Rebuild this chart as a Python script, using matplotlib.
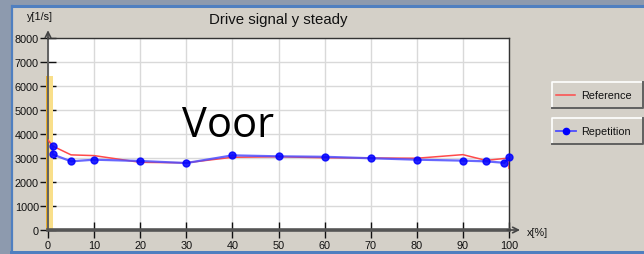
import matplotlib
matplotlib.use("Agg")
import matplotlib.pyplot as plt
from matplotlib.patches import Rectangle
from matplotlib.lines import Line2D

# ---- data ----
ref_x = [0, 1, 5, 10, 20, 30, 40, 50, 60, 70, 80, 90, 95, 100, 100]
ref_y = [3750, 3500, 3130, 3100, 2820, 2800, 3030, 3050, 3010, 3000, 2990, 3140, 2900, 3000, 2570]
rep_x = [1, 1, 5, 10, 20, 30, 40, 50, 60, 70, 80, 90, 95, 99, 100]
rep_y = [3480, 3150, 2860, 2930, 2875, 2790, 3110, 3070, 3050, 2990, 2930, 2890, 2860, 2800, 3030]
x_ticks = [0, 10, 20, 30, 40, 50, 60, 70, 80, 90, 100]
y_ticks = [0, 1000, 2000, 3000, 4000, 5000, 6000, 7000, 8000]
highlight_top = 6400

W, H = 644, 255
FONT = "Liberation Sans"
PANEL = "#d4d0c8"

fig = plt.figure(figsize=(W / 100, H / 100), dpi=100)
fig.patch.set_facecolor("#8d9aae")

def fx(px):
    return px / W

def fy(py):
    return 1 - py / H

# window panel
fig.add_artist(Rectangle((fx(12), fy(252)), fx(W - 12), fy(7) - fy(252),
                         transform=fig.transFigure, facecolor=PANEL,
                         edgecolor="none", zorder=0))
# blue window borders
fig.add_artist(Line2D([fx(12), fx(12)], [fy(252), fy(7)], transform=fig.transFigure,
                      color="#4f7fc0", lw=1.6, zorder=1))
fig.add_artist(Line2D([fx(12), fx(W)], [fy(7), fy(7)], transform=fig.transFigure,
                      color="#4f7fc0", lw=2.2, zorder=1))
fig.add_artist(Rectangle((fx(10), 0), 1, fy(252), transform=fig.transFigure,
                         facecolor="#4f7fc0", edgecolor="none", zorder=1))

ax = fig.add_axes([fx(48), fy(231), fx(509) - fx(48), fy(39) - fy(231)])
ax.set_facecolor("white")
ax.set_xlim(0, 100)
ax.set_ylim(0, 8000)
ax.set_xticks(x_ticks)
ax.set_yticks(y_ticks)
ax.grid(True, color="#d9d9d9", lw=1.0)
ax.set_axisbelow(True)

ax.tick_params(axis="y", direction="inout", length=11, width=1, color="#111111",
               labelsize=7.8, pad=1)
ax.tick_params(axis="x", direction="inout", length=12, width=1, color="#111111",
               labelsize=7.8, pad=1.5)
for lab in ax.get_xticklabels() + ax.get_yticklabels():
    lab.set_fontfamily(FONT)
    lab.set_color("#111111")

for s in ("top", "right"):
    ax.spines[s].set_color("#333333")
    ax.spines[s].set_linewidth(1.0)
ax.spines["left"].set_color("#606060")
ax.spines["left"].set_linewidth(1.4)
ax.spines["bottom"].set_color("#555555")
ax.spines["bottom"].set_linewidth(2.6)

# highlight band near x=0
ax.add_patch(Rectangle((-0.45, 0), 1.5, highlight_top, facecolor="#f9df8a",
                       edgecolor="none", clip_on=False, zorder=1.5))
ax.add_patch(Rectangle((-0.45, 0), 0.5, highlight_top, facecolor="#e8ad2a",
                       edgecolor="none", clip_on=False, zorder=1.6))

# axis arrows
ax.annotate("", xy=(0, 1.055), xytext=(0, 0.98), xycoords="axes fraction",
            arrowprops=dict(arrowstyle="->", color="#444444", lw=1.2), annotation_clip=False)
ax.annotate("", xy=(1.03, 0), xytext=(0.99, 0), xycoords="axes fraction",
            arrowprops=dict(arrowstyle="->", color="#444444", lw=1.2), annotation_clip=False)

# data
ax.plot(ref_x, ref_y, color="#ff4a4a", lw=1.1, zorder=3)
ax.plot(rep_x, rep_y, color="#4d4dff", lw=1.6, alpha=0.85, marker="o",
        markersize=5, markerfacecolor="#0000ff", markeredgecolor="#0000ff", zorder=4,
        clip_on=False)

# texts
fig.text(fx(278), fy(20), "Drive signal y steady", ha="center", va="center",
         fontsize=10.8, family=FONT, color="#111111")
fig.text(fx(40), fy(17), "y[1/s]", ha="center", va="center", fontsize=7.8,
         family=FONT, color="#111111")
fig.text(fx(537), fy(233), "x[%]", ha="center", va="center", fontsize=7.8,
         family=FONT, color="#111111")
ax.text(0.39, 0.49, "Voor", transform=ax.transAxes, ha="center", va="baseline",
        fontsize=30, family="Open Sans", color="black", zorder=5)

# legend buttons
def button(y0, y1, label, marker):
    x0, x1 = 552, 643
    fig.add_artist(Rectangle((fx(x0), fy(y1)), fx(x1) - fx(x0), fy(y0) - fy(y1),
                             transform=fig.transFigure, facecolor=PANEL,
                             edgecolor="none", zorder=2))
    fig.add_artist(Line2D([fx(x0), fx(x0), fx(x1)], [fy(y1), fy(y0), fy(y0)],
                          transform=fig.transFigure, color="white", lw=1.2, zorder=3))
    fig.add_artist(Line2D([fx(x0), fx(x1), fx(x1)], [fy(y1), fy(y1), fy(y0)],
                          transform=fig.transFigure, color="#606060", lw=1.4, zorder=3))
    ym = (y0 + y1) / 2
    if marker:
        fig.add_artist(Line2D([fx(556), fx(576)], [fy(ym), fy(ym)], transform=fig.transFigure,
                              color="#4d4dff", lw=1.3, zorder=4))
        fig.add_artist(Line2D([fx(566)], [fy(ym)], transform=fig.transFigure,
                              color="#0000ff", marker="o", markersize=4.5, zorder=5))
    else:
        fig.add_artist(Line2D([fx(556), fx(575)], [fy(ym), fy(ym)], transform=fig.transFigure,
                              color="#ff4a4a", lw=1.1, zorder=4))
    fig.text(fx(581), fy(ym), label, ha="left", va="center", fontsize=7.8,
             family=FONT, color="#111111", zorder=5)

button(83, 109, "Reference", False)
button(119, 145, "Repetition", True)

fig.savefig("out.png", dpi=100, facecolor=fig.get_facecolor())
